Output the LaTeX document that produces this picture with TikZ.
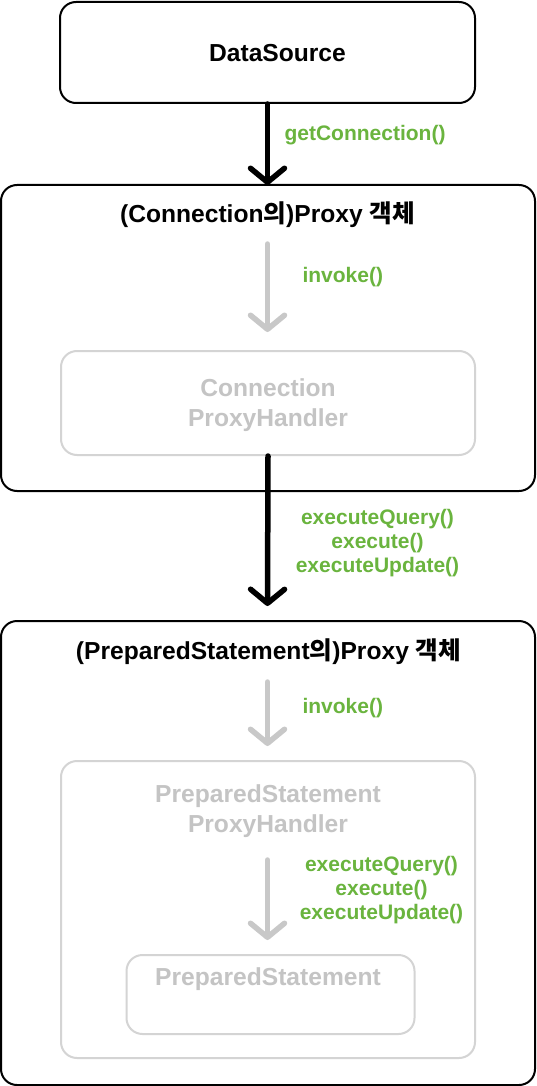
\documentclass[tikz,border=0pt]{standalone}
\usepackage{fontspec}
\setmainfont{Liberation Sans}
\newfontfamily\kr{Noto Sans CJK KR Bold}
\usetikzlibrary{arrows.meta}
\definecolor{grn}{RGB}{106,180,62}
\definecolor{lgtxt}{RGB}{196,196,196}
\definecolor{lgline}{RGB}{200,200,200}
\definecolor{lgbox}{RGB}{212,212,212}
\tikzset{
  blackbox/.style={draw=black, line width=2, rounded corners=16, inner sep=0},
  graybox/.style={draw=lgbox, line width=2, rounded corners=16, inner sep=0},
  titletext/.style={font=\fontsize{24.6}{28}\selectfont\bfseries, text=black},
  graytext/.style={font=\fontsize{24.6}{30}\selectfont\bfseries, text=lgtxt, align=center},
  greentext/.style={font=\fontsize{21}{24}\selectfont\bfseries, text=grn, align=center},
  blkarrow/.style={draw=black, line width=5.5, line cap=round, -{Straight Barb[length=14,width=34,round]}},
  gryarrow/.style={draw=lgline, line width=5.5, line cap=round, -{Straight Barb[length=14,width=34,round]}},
}
\begin{document}
\begin{tikzpicture}[x=1pt,y=-1pt]
\useasboundingbox (0,0) rectangle (536,1086);
\fill[white] (0,0) rectangle (536,1086);

% DataSource
\node[blackbox, minimum width=415, minimum height=101] (ds) at (267.5,52.5) {};
\node[titletext] (dst) at (277.5,53.5) {DataSource};

% Connection proxy
\node[blackbox, minimum width=534, minimum height=306] (cp) at (268,338) {};
\node[titletext] (cpt) at (267.5,215) {(Connection{\kr 의})Proxy {\kr 객체}};
\node[graybox, minimum width=414, minimum height=104] (cph) at (268,403) {};
\node[graytext] (cpht) at (268,405) {Connection\\ProxyHandler};

% PreparedStatement proxy
\node[blackbox, minimum width=534, minimum height=464] (pp) at (268,853) {};
\node[titletext] (ppt) at (268.5,652) {(PreparedStatement{\kr 의})Proxy {\kr 객체}};
\node[graybox, minimum width=414, minimum height=297] (pph) at (268,909.5) {};
\node[graytext] (ppht) at (268,811) {PreparedStatement\\ProxyHandler};
\node[graybox, minimum width=288, minimum height=79] (ps) at (270.5,994.5) {};
\node[graytext] (pst) at (268,979) {PreparedStatement};

% arrow end points
\coordinate (a1e) at (267.5,185);
\coordinate (a2s) at (267.5,244);
\coordinate (a2e) at (267.5,332);
\coordinate (a3e) at (267.5,606);
\coordinate (a4s) at (267.5,682);
\coordinate (a4e) at (267.5,746);
\coordinate (a5s) at (267.5,860);
\coordinate (a5e) at (267.5,940);

\draw[blkarrow] (ds.south) -- (a1e);
\draw[gryarrow] (a2s) -- (a2e);
\draw[blkarrow] (cph.south) -- (a3e);
\draw[gryarrow] (a4s) -- (a4e);
\draw[gryarrow] (a5s) -- (a5e);

% labels
\node[greentext, anchor=west] (l1) at (281,135.5) {getConnection()};
\node[greentext, anchor=west] (l2) at (299,277.5) {invoke()};
\node[greentext] (l3) at (377.5,543) {executeQuery()\\execute()\\executeUpdate()};
\node[greentext, anchor=west] (l4) at (299,708.5) {invoke()};
\node[greentext] (l5) at (381.5,890) {executeQuery()\\execute()\\executeUpdate()};
\end{tikzpicture}
\end{document}
